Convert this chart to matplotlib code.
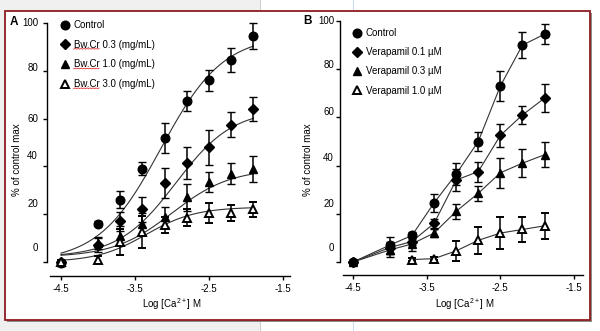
import numpy as np
import matplotlib
matplotlib.use("Agg")
from matplotlib import pyplot as plt
from matplotlib.patches import Rectangle
from matplotlib.lines import Line2D
from matplotlib import transforms

plt.rcParams['font.family'] = ['Liberation Sans', 'DejaVu Sans']
plt.rcParams['mathtext.default'] = 'regular'

W, H = 600, 331

# log [Ca2+] concentrations
log_ca = [-4.5, -4.0, -3.7, -3.4, -3.1, -2.8, -2.5, -2.2, -1.9]
log_ca_v10 = [-3.7, -3.4, -3.1, -2.8, -2.5, -2.2, -1.9]

# panel A : Bw.Cr
labels_a = ['Control', 'Bw.Cr 0.3 (mg/mL)', 'Bw.Cr 1.0 (mg/mL)', 'Bw.Cr 3.0 (mg/mL)']
ctrl_a = [-0.5, 16, 26, 39, 52, 67.5, 76, 84.5, 94.5]
ctrl_a_err = [1, 1, 3.5, 2.8, 6.3, 4.2, 4.3, 5, 5.4]
bw03 = [0, 7, 17, 22, 33, 41.5, 48, 57.5, 64]
bw03_err = [1, 3, 4, 5.2, 6.3, 6.6, 7.4, 5.4, 5.2]
bw10 = [0, 8, 11, 16, 19, 27, 33.5, 37, 39]
bw10_err = [1, 2.5, 4, 4.5, 4.2, 5.6, 4.2, 4.5, 5.4]
bw30 = [0, 1, 8.5, 12.5, 15.5, 18.5, 20.5, 20.5, 22]
bw30_err = [1, 1.5, 5.5, 6.6, 3.5, 3.6, 4.2, 3.3, 3]
# sigmoid fits : bottom, top, logEC50, hill
fit_ctrl_a = [0, 95, -3.15, 1.03]
fit_bw03 = [2, 64, -2.95, 1.12]
fit_bw10 = [2, 39, -3.0, 1.1]
fit_bw30 = [0, 23, -3.35, 1.3]

# panel B : verapamil
labels_b = ['Control', 'Verapamil 0.1 µM', 'Verapamil 0.3 µM', 'Verapamil 1.0 µM']
ctrl_b = [0, 7, 11, 24.5, 36.5, 50, 73, 90, 94.5]
ctrl_b_err = [1, 3.5, 1.5, 3.9, 4.6, 3.8, 6.1, 5.5, 4.1]
v01 = [0, 6, 8.5, 16, 34, 37.5, 52.5, 61, 68]
v01_err = [1, 2.5, 1.5, 2, 4.5, 4.1, 4.8, 3.9, 5.7]
v03 = [0, 5, 7.5, 12, 21, 28.5, 37, 41, 44.5]
v03_err = [1, 3, 3.1, 1.5, 3.1, 3, 6.2, 5.7, 5.2]
v10 = [1, 1.4, 4.6, 9, 12, 13.5, 15]
v10_err = [0.5, 0.5, 4.2, 5.7, 6.8, 5.3, 5.4]

xticks = [-4.5, -3.5, -2.5, -1.5]
yticks = [0, 20, 40, 60, 80, 100]


def fx(px):
    return px / W


def fy(py):
    return 1 - py / H


def sigmoid(x, p):
    bottom, top, ec50, hill = p
    return bottom + (top - bottom) / (1 + 10 ** ((ec50 - x) * hill))


fig = plt.figure(figsize=(W / 100, H / 100), dpi=100)
fig.patch.set_facecolor('white')

# page background and frame
fig.patches.append(Rectangle((0, 0), fx(260), 1, transform=fig.transFigure,
                             facecolor='#f0f0f0', edgecolor='none', zorder=-10))
fig.add_artist(Line2D([fx(260), fx(260)], [0, 1], color='#d0d0d0', lw=0.8, zorder=-9))
fig.add_artist(Line2D([fx(353), fx(353)], [0, 1], color='#c9ddf0', lw=0.8, zorder=-9))
fig.patches.append(Rectangle((fx(7), fy(322)), fx(585), 1 - fy(309), transform=fig.transFigure,
                             facecolor='#8c8c8c', edgecolor='none', zorder=-8))
fig.patches.append(Rectangle((fx(5), fy(320)), fx(585), 1 - fy(309), transform=fig.transFigure,
                             facecolor='white', edgecolor='#8e1b1f', lw=1.3, zorder=-7))


def make_axes(l, r, t, b, x0px, x1px, y0px, y100px):
    ax = fig.add_axes([fx(l), fy(b), fx(r - l), fy(t) - fy(b)])
    sx = (x1px - x0px) / 3.0
    sy = (y0px - y100px) / 100.0
    ax.set_xlim(-4.5 - (x0px - l) / sx, -1.5 + (r - x1px) / sx)
    ax.set_ylim(-(b - y0px) / sy, 100 + (y100px - t) / sy)
    ax.set_facecolor('none')
    for s in ['top', 'right']:
        ax.spines[s].set_visible(False)
    ax.spines['left'].set_bounds(0, 100)
    ax.spines['bottom'].set_bounds(-4.5 - (x0px - l - 3) / sx, ax.get_xlim()[1])
    for s in ['left', 'bottom']:
        ax.spines[s].set_linewidth(1.0)
    ax.set_xticks(xticks)
    ax.set_xticklabels([str(v) for v in xticks])
    ax.set_yticks(yticks)
    ax.set_yticklabels([])
    ax.tick_params(direction='out', length=3, width=1.0, labelsize=7, pad=3)
    return ax


def draw_series(ax, x, y, err, marker, ms, mfc, mew):
    ax.errorbar(x, y, yerr=err, fmt=marker, ms=ms, mfc=mfc, mec='black', mew=mew,
                color='black', ecolor='black', elinewidth=1.1, capsize=2.6, capthick=1.1,
                zorder=3)


def ytick_text(ax, xpos, offsets):
    for v, off in zip(yticks, offsets):
        tr = transforms.blended_transform_factory(ax.transAxes, ax.transData)
        tr = transforms.offset_copy(tr, fig=fig, x=0, y=off * 72 / 100, units='points')
        ax.text(xpos, v, str(v), transform=tr, ha='right', va='center', fontsize=7)


markers = ['o', 'D', '^', '^']
sizes = [6.2, 4.8, 6.4, 6.2]
faces = ['black', 'black', 'black', 'white']
edges = [1.0, 1.0, 1.0, 1.4]

# ---- panel A
axA = make_axes(47, 290, 15, 276, 61, 283, 262, 23)
xs = np.linspace(-4.5, -1.9, 200)
for p in [fit_ctrl_a, fit_bw03, fit_bw10, fit_bw30]:
    axA.plot(xs, sigmoid(xs, p), color='#333333', lw=0.8, zorder=2)
for y, e, m, s, f, w in zip([ctrl_a, bw03, bw10, bw30], [ctrl_a_err, bw03_err, bw10_err, bw30_err],
                            markers, sizes, faces, edges):
    draw_series(axA, log_ca, y, e, m, s, f, w)
ytick_text(axA, (38 - 47) / 243, [14, 10, 10, 0, 3, 0])
axA.set_xlabel('Log [Ca$^{2+}$] M', fontsize=7)
axA.xaxis.set_label_coords((172 - 47) / 243, (276 - 304) / 261)
axA.xaxis.label.set_va('center')
axA.set_ylabel('% of control max', fontsize=7)
axA.yaxis.set_label_coords((17 - 47) / 243, (276 - 160) / 261)
axA.yaxis.label.set_va('center')
fig.text(fx(14), fy(22), 'A', fontsize=8.5, fontweight='bold', ha='center', va='center')

# ---- panel B
axB = make_axes(340, 583, 14, 275, 353, 574, 262, 21)
for x, y in zip([log_ca, log_ca, log_ca, log_ca_v10], [ctrl_b, v01, v03, v10]):
    axB.plot(x, y, color='#333333', lw=0.8, zorder=2)
for x, y, e, m, s, f, w in zip([log_ca, log_ca, log_ca, log_ca_v10], [ctrl_b, v01, v03, v10],
                               [ctrl_b_err, v01_err, v03_err, v10_err], markers, sizes, faces, edges):
    draw_series(axB, x, y, e, m, s, f, w)
ytick_text(axB, (334 - 340) / 243, [14, 10, 8, 5, 4, 0])
axB.set_xlabel('Log [Ca$^{2+}$] M', fontsize=7)
axB.xaxis.set_label_coords((465 - 340) / 243, (275 - 304) / 261)
axB.xaxis.label.set_va('center')
axB.set_ylabel('% of control max', fontsize=7)
axB.yaxis.set_label_coords((308 - 340) / 243, (275 - 160) / 261)
axB.yaxis.label.set_va('center')
fig.text(fx(307), fy(21), 'B', fontsize=8.5, fontweight='bold', ha='center', va='center')


def legend(ax, labels, left, top, spacing):
    handles = [Line2D([], [], ls='none', marker=m, ms=s, mfc=f, mec='black', mew=w)
               for m, s, f, w in zip(markers, sizes, faces, edges)]
    return ax.legend(handles, labels, loc='upper left', bbox_to_anchor=(fx(left), fy(top)),
                     bbox_transform=fig.transFigure, frameon=False, fontsize=7,
                     handlelength=0.8, handletextpad=0.5, labelspacing=spacing,
                     borderpad=0, borderaxespad=0)


legA = legend(axA, labels_a, 61, 20, 1.0)
legend(axB, labels_b, 353, 28, 0.95)

# red squiggle under "Bw.Cr" (spell-check mark)
fig.canvas.draw()
renderer = fig.canvas.get_renderer()
tmp = fig.text(0, 0, 'Bw.Cr', fontsize=7)
wbw = tmp.get_window_extent(renderer).width
tmp.remove()
for t in legA.get_texts()[1:]:
    bb = t.get_window_extent(renderer)
    zx = np.arange(bb.x0, bb.x0 + wbw, 1.5)
    zy = bb.y0 + 0.6 + 0.6 * (np.arange(len(zx)) % 2)
    fig.add_artist(Line2D(zx, zy, color='#e03030', lw=0.6,
                          transform=transforms.IdentityTransform()))

fig.savefig('out.png', dpi=100)
